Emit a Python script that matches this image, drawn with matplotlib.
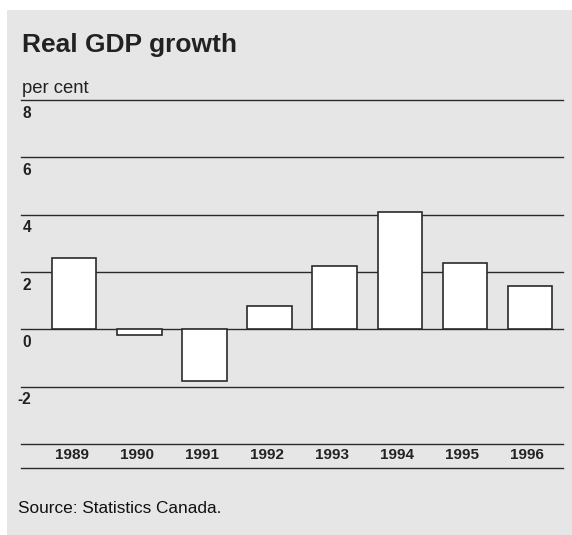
import matplotlib
matplotlib.use('Agg')
import matplotlib.pyplot as plt
from matplotlib.patches import Rectangle
from matplotlib.lines import Line2D
from matplotlib.transforms import ScaledTranslation

years = ['1989', '1990', '1991', '1992', '1993', '1994', '1995', '1996']
growth = [2.5, -0.2, -1.8, 0.8, 2.2, 4.1, 2.3, 1.5]
grid_values = [8, 6, 4, 2, 0, -2, -4]
tick_labels = ['8', '6', '4', '2', '0', '-2', '']

plt.rcParams['font.family'] = ['Liberation Sans', 'DejaVu Sans']

W, H = 572, 535
fig = plt.figure(figsize=(W / 100, H / 100), dpi=100)
fig.patch.set_facecolor('white')

# grey panel behind everything
fig.patches.append(Rectangle((7 / W, 0), 1 - 7 / W, 1 - 10 / H,
                             transform=fig.transFigure, facecolor='#e6e6e6',
                             edgecolor='none', zorder=-10))

ax = fig.add_axes([21 / W, 1 - 444 / H, 542 / W, 344 / H])
ax.set_zorder(5)
ax.set_facecolor('none')
ax.set_xlim(-0.82, 7.51)
ax.set_ylim(-4, 8)
for s in ax.spines.values():
    s.set_visible(False)

for v in grid_values:
    ax.axhline(v, color='#2a2a2a', linewidth=1.0, zorder=1, clip_on=False)

x = list(range(len(years)))
ax.bar(x, growth, width=0.68, color='white', edgecolor='#2a2a2a',
       linewidth=1.2, zorder=3)

ax.set_yticks([])
ax.set_xticks(x)
ax.set_xticklabels(years, fontsize=11, fontweight='bold', color='#222222')
ax.tick_params(axis='x', length=0, pad=3.2)
shift = ScaledTranslation(-2.5 / 100, 0, fig.dpi_scale_trans)
for lbl in ax.get_xticklabels():
    lbl.set_transform(lbl.get_transform() + shift)

for v, lab in zip(grid_values, tick_labels):
    ax.annotate(lab, xy=(0, v), xycoords=('axes fraction', 'data'),
                xytext=(7.5, -9.4), textcoords='offset points',
                ha='right', va='center', fontsize=11.2, fontweight='bold',
                color='#222222')

# bottom rule under year labels
fig.lines.append(Line2D([21 / W, 563 / W], [1 - 468 / H, 1 - 468 / H],
                        transform=fig.transFigure, color='#2a2a2a', linewidth=1.0))

fig.text(22 / W, 1 - 52 / H, 'Real GDP growth', fontsize=19, fontweight='bold',
         color='#222222', va='baseline')
fig.text(22 / W, 1 - 93 / H, 'per cent', fontsize=13.3, color='#222222',
         va='baseline')
fig.text(18 / W, 1 - 513 / H, 'Source: Statistics Canada.', fontsize=12.4,
         color='#111111', va='baseline')

plt.savefig('out.png', dpi=100)
